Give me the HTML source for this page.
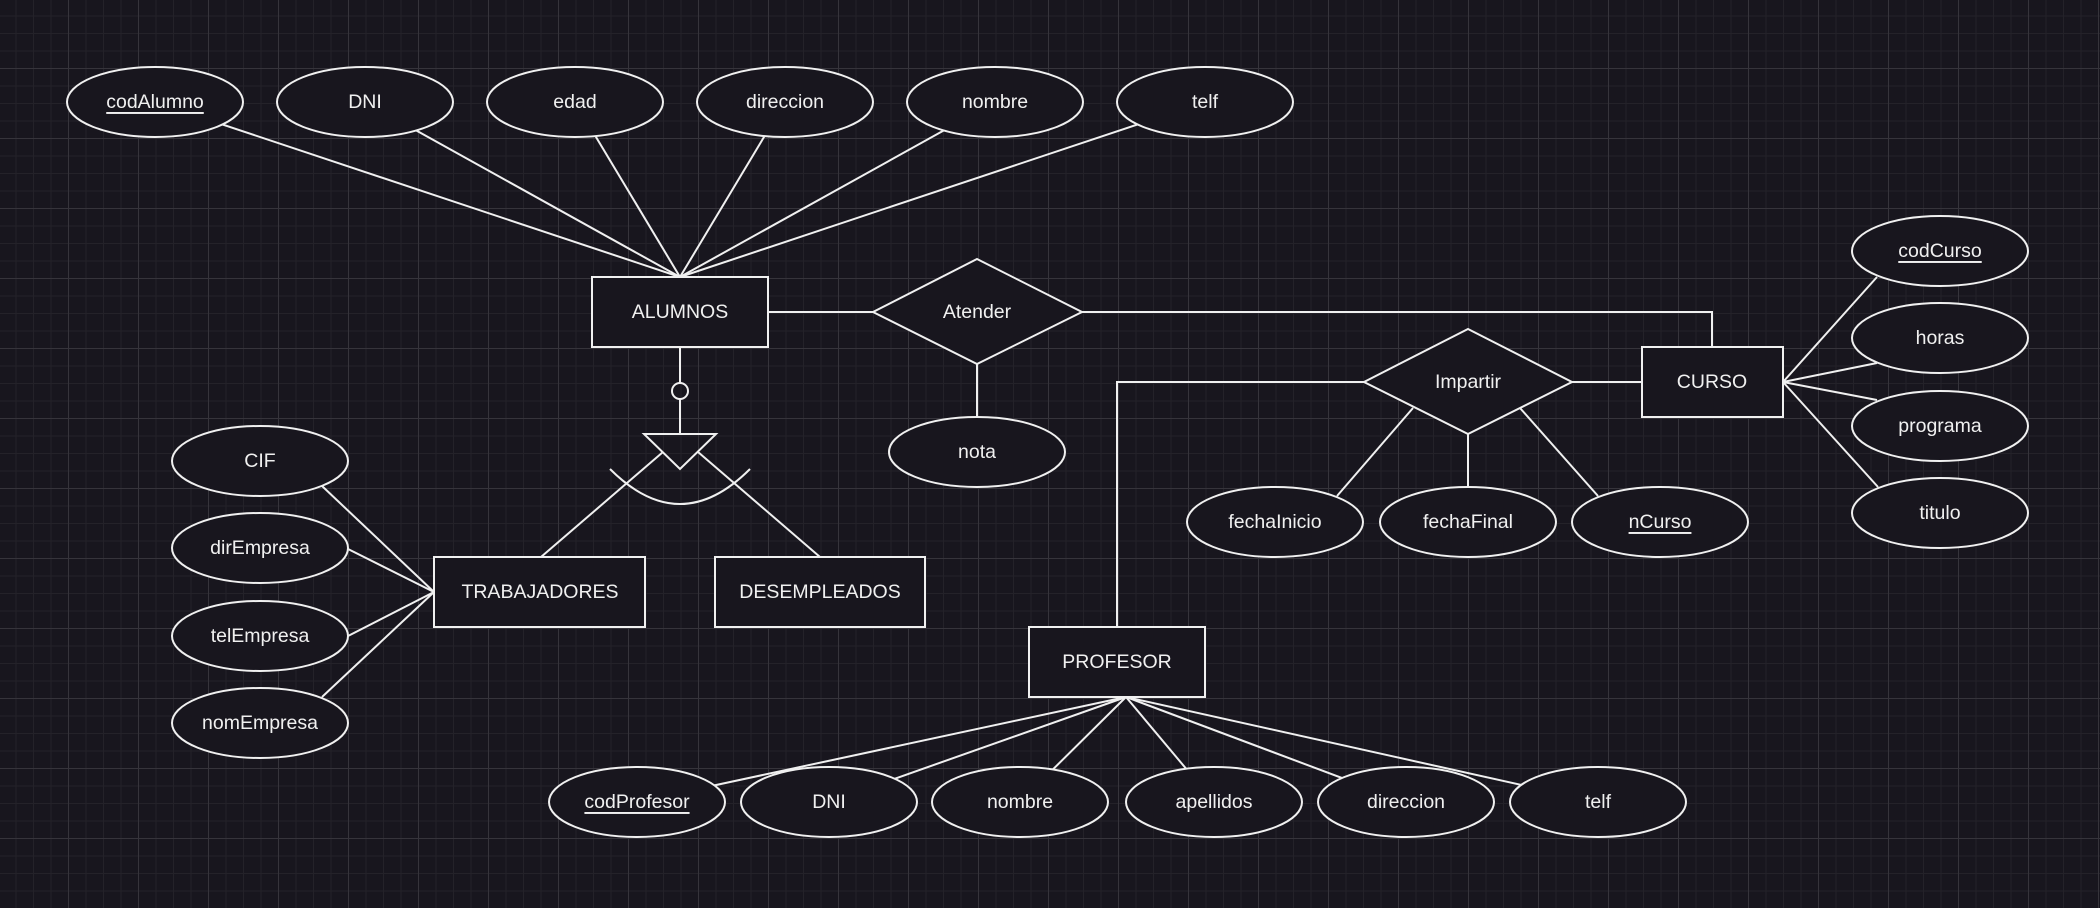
<!DOCTYPE html>
<html><head><meta charset="utf-8"><style>
html,body{margin:0;padding:0;background:#18161e;width:2100px;height:908px;overflow:hidden}
text{font-family:"Liberation Sans",Arial,sans-serif;font-size:19.5px;fill:#f0f0f0;text-anchor:middle;dominant-baseline:central}
</style></head><body>
<svg width="2100" height="908" viewBox="0 0 2100 908" xmlns="http://www.w3.org/2000/svg">
<defs>
<pattern id="minor" width="17.5" height="17.5" patternUnits="userSpaceOnUse" x="-2" y="-2">
<path d="M0 0.5H17.5M0.5 0V17.5" stroke="#242229" stroke-width="1" fill="none"/>
</pattern>
<pattern id="major" width="70" height="70" patternUnits="userSpaceOnUse" x="-2" y="-2">
<path d="M0 0.5H70M0.5 0V70" stroke="#36343b" stroke-width="1" fill="none"/>
</pattern>
</defs>
<rect width="2100" height="908" fill="#18161e"/>
<rect width="2100" height="908" fill="url(#minor)"/>
<rect width="2100" height="908" fill="url(#major)"/>

<g stroke="#f0f0f0" stroke-width="2" fill="none">
<!-- ALUMNOS attributes -->
<line x1="680" y1="277" x2="155" y2="102"/>
<line x1="680" y1="277" x2="365" y2="102"/>
<line x1="680" y1="277" x2="575" y2="102"/>
<line x1="680" y1="277" x2="785" y2="102"/>
<line x1="680" y1="277" x2="995" y2="102"/>
<line x1="680" y1="277" x2="1205" y2="102"/>
<!-- Atender -->
<line x1="768" y1="312" x2="873" y2="312"/>
<polyline points="1082,312 1712,312 1712,347"/>
<line x1="977" y1="364" x2="977" y2="417"/>
<!-- Impartir -->
<polyline points="1364,382 1117,382 1117,627"/>
<line x1="1572" y1="382" x2="1642" y2="382"/>
<line x1="1413" y1="408" x2="1337" y2="496"/>
<line x1="1468" y1="434" x2="1468" y2="487"/>
<line x1="1520" y1="408" x2="1598" y2="496"/>
<!-- CURSO attributes -->
<line x1="1783" y1="382" x2="1877" y2="277"/>
<line x1="1783" y1="382" x2="1877" y2="363"/>
<line x1="1783" y1="382" x2="1877" y2="400"/>
<line x1="1783" y1="382" x2="1878" y2="487"/>
<!-- ISA -->
<line x1="680" y1="347" x2="680" y2="383"/>
<circle cx="680" cy="391" r="8"/>
<line x1="680" y1="399" x2="680" y2="434"/>
<polygon points="644,434 716,434 680,469"/>
<line x1="663" y1="452" x2="541" y2="557"/>
<line x1="698" y1="452" x2="820" y2="557"/>
<path d="M610,469 Q680,539 750,469"/>
<!-- TRABAJADORES attrs -->
<line x1="434" y1="592" x2="322" y2="486"/>
<line x1="434" y1="592" x2="348" y2="549"/>
<line x1="434" y1="592" x2="348" y2="636"/>
<line x1="434" y1="592" x2="322" y2="697"/>
<!-- PROFESOR attrs -->
<line x1="1126" y1="697" x2="637" y2="802"/>
<line x1="1126" y1="697" x2="829" y2="802"/>
<line x1="1126" y1="697" x2="1020" y2="802"/>
<line x1="1126" y1="697" x2="1214" y2="802"/>
<line x1="1126" y1="697" x2="1406" y2="802"/>
<line x1="1126" y1="697" x2="1598" y2="802"/>
</g>

<g stroke="#f0f0f0" stroke-width="2" fill="#18161e">
<!-- top ellipses -->
<ellipse cx="155" cy="102" rx="88" ry="35"/>
<ellipse cx="365" cy="102" rx="88" ry="35"/>
<ellipse cx="575" cy="102" rx="88" ry="35"/>
<ellipse cx="785" cy="102" rx="88" ry="35"/>
<ellipse cx="995" cy="102" rx="88" ry="35"/>
<ellipse cx="1205" cy="102" rx="88" ry="35"/>
<rect x="592" y="277" width="176" height="70"/>
<polygon points="977,259 1082,312 977,364 873,312"/>
<ellipse cx="977" cy="452" rx="88" ry="35"/>
<polygon points="1468,329 1572,382 1468,434 1364,382"/>
<rect x="1642" y="347" width="141" height="70"/>
<ellipse cx="1940" cy="251" rx="88" ry="35"/>
<ellipse cx="1940" cy="338" rx="88" ry="35"/>
<ellipse cx="1940" cy="426" rx="88" ry="35"/>
<ellipse cx="1940" cy="513" rx="88" ry="35"/>
<ellipse cx="1275" cy="522" rx="88" ry="35"/>
<ellipse cx="1468" cy="522" rx="88" ry="35"/>
<ellipse cx="1660" cy="522" rx="88" ry="35"/>
<ellipse cx="260" cy="461" rx="88" ry="35"/>
<ellipse cx="260" cy="548" rx="88" ry="35"/>
<ellipse cx="260" cy="636" rx="88" ry="35"/>
<ellipse cx="260" cy="723" rx="88" ry="35"/>
<rect x="434" y="557" width="211" height="70"/>
<rect x="715" y="557" width="210" height="70"/>
<rect x="1029" y="627" width="176" height="70"/>
<ellipse cx="637" cy="802" rx="88" ry="35"/>
<ellipse cx="829" cy="802" rx="88" ry="35"/>
<ellipse cx="1020" cy="802" rx="88" ry="35"/>
<ellipse cx="1214" cy="802" rx="88" ry="35"/>
<ellipse cx="1406" cy="802" rx="88" ry="35"/>
<ellipse cx="1598" cy="802" rx="88" ry="35"/>
</g>

<g>
<text x="155" y="102" text-decoration="underline">codAlumno</text>
<text x="365" y="102">DNI</text>
<text x="575" y="102">edad</text>
<text x="785" y="102">direccion</text>
<text x="995" y="102">nombre</text>
<text x="1205" y="102">telf</text>
<text x="680" y="312">ALUMNOS</text>
<text x="977" y="312">Atender</text>
<text x="977" y="452">nota</text>
<text x="1468" y="382">Impartir</text>
<text x="1712" y="382">CURSO</text>
<text x="1940" y="251" text-decoration="underline">codCurso</text>
<text x="1940" y="338">horas</text>
<text x="1940" y="426">programa</text>
<text x="1940" y="513">titulo</text>
<text x="1275" y="522">fechaInicio</text>
<text x="1468" y="522">fechaFinal</text>
<text x="1660" y="522" text-decoration="underline">nCurso</text>
<text x="260" y="461">CIF</text>
<text x="260" y="548">dirEmpresa</text>
<text x="260" y="636">telEmpresa</text>
<text x="260" y="723">nomEmpresa</text>
<text x="540" y="592">TRABAJADORES</text>
<text x="820" y="592">DESEMPLEADOS</text>
<text x="1117" y="662">PROFESOR</text>
<text x="637" y="802" text-decoration="underline">codProfesor</text>
<text x="829" y="802">DNI</text>
<text x="1020" y="802">nombre</text>
<text x="1214" y="802">apellidos</text>
<text x="1406" y="802">direccion</text>
<text x="1598" y="802">telf</text>
</g>
</svg>
</body></html>
